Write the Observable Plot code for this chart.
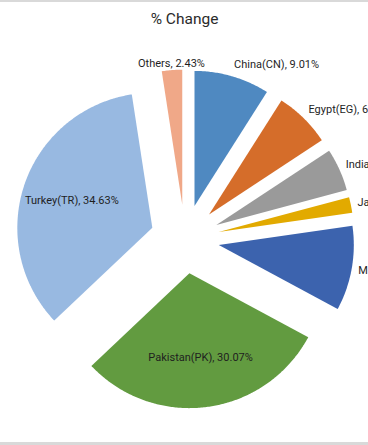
<!DOCTYPE html>
<html>
<head>
<meta charset="utf-8">
<script src="https://cdn.jsdelivr.net/npm/d3@7"></script>
<script src="https://cdn.jsdelivr.net/npm/@observablehq/plot@0.6"></script>
<style>
  html, body { margin: 0; padding: 0; background: #fff; overflow: hidden; }
  #wrap { position: relative; width: 368px; height: 445px; overflow: hidden; }
  #wrap svg { overflow: hidden; display: block; }
  .band { position: absolute; left: 0; width: 368px; background: #d9d9d9; }
</style>
</head>
<body>
<div id="wrap">
  <div id="chart"></div>
  <div class="band" style="top:0;height:2px"></div>
  <div class="band" style="bottom:0;height:3px"></div>
</div>
<script>
// ---- data ----
const title = "% Change";
const categories = ["China(CN)", "Egypt(EG)", "India(IN)", "Japan(JP)", "Mexico(MX)", "Pakistan(PK)", "Turkey(TR)", "Others"];
const values = [9.01, 6.72, 5.12, 1.87, 10.15, 30.07, 34.63, 2.43];
const colors = ["#4f89c1", "#d56d2a", "#9a9a9a", "#e2aa00", "#3c63ae", "#629b40", "#98b9e1", "#f0a888"];

// ---- geometry (pie radius = 1 unit) ----
const W = 368, H = 445;
const PX = 135;            // pixels per unit radius
const CX = 184.4, CY = 238.5; // pie centre in pixels
const EXPLODE = 0.255;     // point explosion, in radii

const rows = categories.map((c, i) => ({name: c, value: values[i], color: colors[i]}));
const arcs = d3.pie().sort(null).value(d => d.value)(rows);
arcs.forEach(p => {
  p.mid = (p.startAngle + p.endAngle) / 2;
  p.ax = EXPLODE * Math.sin(p.mid);
  p.ay = EXPLODE * Math.cos(p.mid);
});

const sliceMarks = arcs.map(p => {
  const pts = [{x: p.ax, y: p.ay}];
  const n = Math.max(2, Math.ceil((p.endAngle - p.startAngle) / 0.01));
  for (let k = 0; k <= n; k++) {
    const a = p.startAngle + (p.endAngle - p.startAngle) * k / n;
    pts.push({x: p.ax + Math.sin(a), y: p.ay + Math.cos(a)});
  }
  pts.push({x: p.ax, y: p.ay});
  return Plot.line(pts, {x: "x", y: "y", fill: p.data.color, stroke: "none", curve: "linear"});
});

// labels
const labels = arcs.map(p => {
  const s = Math.sin(p.mid), c = Math.cos(p.mid);
  const text = `${p.data.name}, ${p.data.value.toFixed(2)}%`;
  if (p.data.value > 20) {
    const r = 0.63;
    return {x: p.ax + r * s, y: p.ay + r * c, text, anchor: "middle"};
  }
  const r = 1.05;
  let anchor = Math.abs(s) < 0.2 ? "middle" : (s > 0 ? "start" : "end");
  const lift = anchor === "middle" ? 0 : c * 6 / PX;
  return {x: p.ax + r * s, y: p.ay + r * c + lift, text, anchor};
});

const FONT = "Roboto, Lato, sans-serif";
const textStyle = {fill: "#1f1f1f", fontSize: 11, fontFamily: FONT, text: "text", x: "x", y: "y"};

const chart = Plot.plot({
  width: W,
  height: H,
  margin: 0,
  x: {domain: [-CX / PX, (W - CX) / PX], axis: null},
  y: {domain: [(CY - H) / PX, CY / PX], axis: null},
  style: {fontFamily: FONT, background: "#fff"},
  marks: [
    ...sliceMarks,
    Plot.text(labels.filter(d => d.anchor === "middle"), {...textStyle, textAnchor: "middle"}),
    Plot.text(labels.filter(d => d.anchor === "start"), {...textStyle, textAnchor: "start"}),
    Plot.text(labels.filter(d => d.anchor === "end"), {...textStyle, textAnchor: "end"}),
    Plot.text([title], {frameAnchor: "top", dy: 19, lineAnchor: "middle", fontSize: 15.5, fill: "#2b2b2b", fontFamily: FONT})
  ]
});
document.getElementById("chart").appendChild(chart);
</script>
</body>
</html>
